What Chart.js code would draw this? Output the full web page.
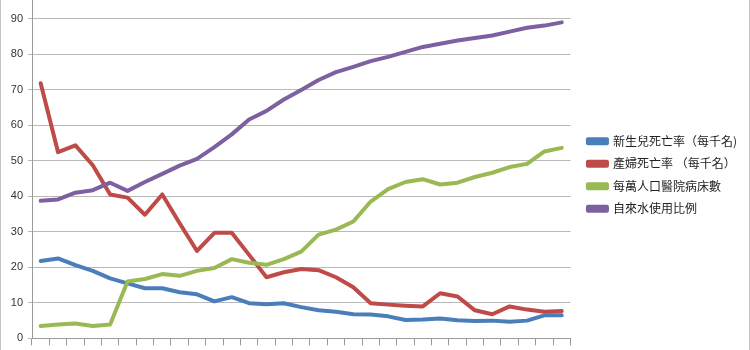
<!DOCTYPE html>
<html>
<head>
<meta charset="utf-8">
<script src="https://cdn.jsdelivr.net/npm/chart.js@4/dist/chart.umd.min.js"></script>
<style>
    html, body { margin: 0; padding: 0; background: #fff; }
    #frame {
        width: 750px;
        height: 350px;
        box-sizing: border-box;
        border-left: 1px solid #c4c4c4;
        border-right: 1px solid #c4c4c4;
        overflow: hidden;
    }
    #frame canvas { display: block; }
</style>
</head>
<body>
<div id="frame"><canvas id="health-chart" width="748" height="350"></canvas></div>
<script>
// category labels (one per year, not printed on the axis)
const years = [
    '1980', '1981', '1982', '1983', '1984', '1985', '1986', '1987', '1988', '1989',
    '1990', '1991', '1992', '1993', '1994', '1995', '1996', '1997', '1998', '1999',
    '2000', '2001', '2002', '2003', '2004', '2005', '2006', '2007', '2008', '2009', '2010'
];

const seriesNames = ['新生兒死亡率（每千名)', '產婦死亡率 （每千名）', '每萬人口醫院病床數', '自來水使用比例'];
const seriesColors = ['#4a7ebb', '#be4b48', '#98b954', '#7d60a0'];

const neonatalDeaths = [21.8, 22.5, 20.6, 19.0, 16.9, 15.5, 14.1, 14.1, 13.0, 12.4, 10.4, 11.6, 9.9, 9.6, 9.9, 8.8,
    7.9, 7.5, 6.8, 6.7, 6.2, 5.2, 5.3, 5.6, 5.1, 4.9, 5.0, 4.7, 5.0, 6.5, 6.5];
const maternalDeaths = [71.8, 52.4, 54.3, 48.7, 40.5, 39.6, 34.8, 40.5, 32.4, 24.6, 29.7, 29.7, 23.5, 17.2, 18.6, 19.5,
    19.2, 17.2, 14.4, 9.9, 9.5, 9.2, 9.0, 12.7, 11.8, 7.9, 6.8, 9.0, 8.1, 7.5, 7.7];
const hospitalBeds = [3.5, 3.9, 4.2, 3.5, 3.9, 16.0, 16.7, 18.1, 17.6, 19.0, 19.8, 22.3, 21.3, 20.7, 22.3, 24.4,
    29.2, 30.6, 32.9, 38.5, 42.0, 44.0, 44.8, 43.3, 43.8, 45.4, 46.6, 48.2, 49.1, 52.6, 53.6];
const tapWater = [38.7, 39.1, 41.0, 41.7, 43.8, 41.5, 44.0, 46.3, 48.6, 50.5, 53.8, 57.4, 61.6, 64.0, 67.2, 69.9,
    72.7, 74.9, 76.4, 78.0, 79.2, 80.6, 82.0, 82.9, 83.8, 84.5, 85.2, 86.3, 87.4, 88.0, 88.9];

const yTicks = { min: 0, max: 95.2, step: 10 };

document.addEventListener('DOMContentLoaded', () => {
    const ctx = document.getElementById('health-chart').getContext('2d');
    const values = [neonatalDeaths, maternalDeaths, hospitalBeds, tapWater];

    // later series sit on top, so give them the lower draw order
    const datasets = values.map((data, i) => ({
        label: seriesNames[i],
        data: data,
        borderColor: seriesColors[i],
        backgroundColor: seriesColors[i],
        borderWidth: 4,
        borderJoinStyle: 'round',
        borderCapStyle: 'round',
        pointRadius: 0,
        tension: 0,
        fill: false,
        order: values.length - i
    }));

    new Chart(ctx, {
        type: 'line',
        data: { labels: years, datasets: datasets },
        options: {
            responsive: false,
            animation: false,
            layout: { padding: { top: 0, right: 2, bottom: 0, left: 0 } },
            plugins: {
                tooltip: { enabled: false },
                legend: {
                    position: 'right',
                    maxWidth: 220,
                    labels: {
                        boxWidth: 19,
                        boxHeight: 4,
                        padding: 10.5,
                        color: '#222',
                        font: { family: '"Noto Sans CJK TC", "Noto Sans CJK SC", sans-serif', size: 12 },
                        // keep the legend in dataset order, not draw order
                        sort: (a, b) => a.datasetIndex - b.datasetIndex
                    }
                }
            },
            scales: {
                x: {
                    type: 'category',
                    offset: true,
                    ticks: { display: false },
                    grid: {
                        offset: true,
                        drawOnChartArea: false,
                        drawTicks: true,
                        tickLength: 7,
                        color: '#9a9a9a'
                    },
                    border: { display: true, color: '#9a9a9a' }
                },
                y: {
                    min: yTicks.min,
                    max: yTicks.max,
                    ticks: {
                        stepSize: yTicks.step,
                        includeBounds: false,
                        padding: 5,
                        color: '#333',
                        font: { family: '"Liberation Sans", Arial, sans-serif', size: 11 }
                    },
                    grid: { color: '#b9b9b9', tickLength: 4 },
                    border: { display: true, color: '#9a9a9a' },
                    afterFit: (scale) => {
                        scale.width = 31;
                        scale.paddingTop = 0;
                    }
                },
                // empty spacer between the plot and the legend
                gap: {
                    type: 'linear',
                    position: 'right',
                    display: true,
                    ticks: { display: false },
                    grid: { display: false, drawTicks: false },
                    border: { display: false },
                    afterFit: (scale) => {
                        scale.width = 7;
                    }
                }
            }
        }
    });
});
</script>
</body>
</html>
